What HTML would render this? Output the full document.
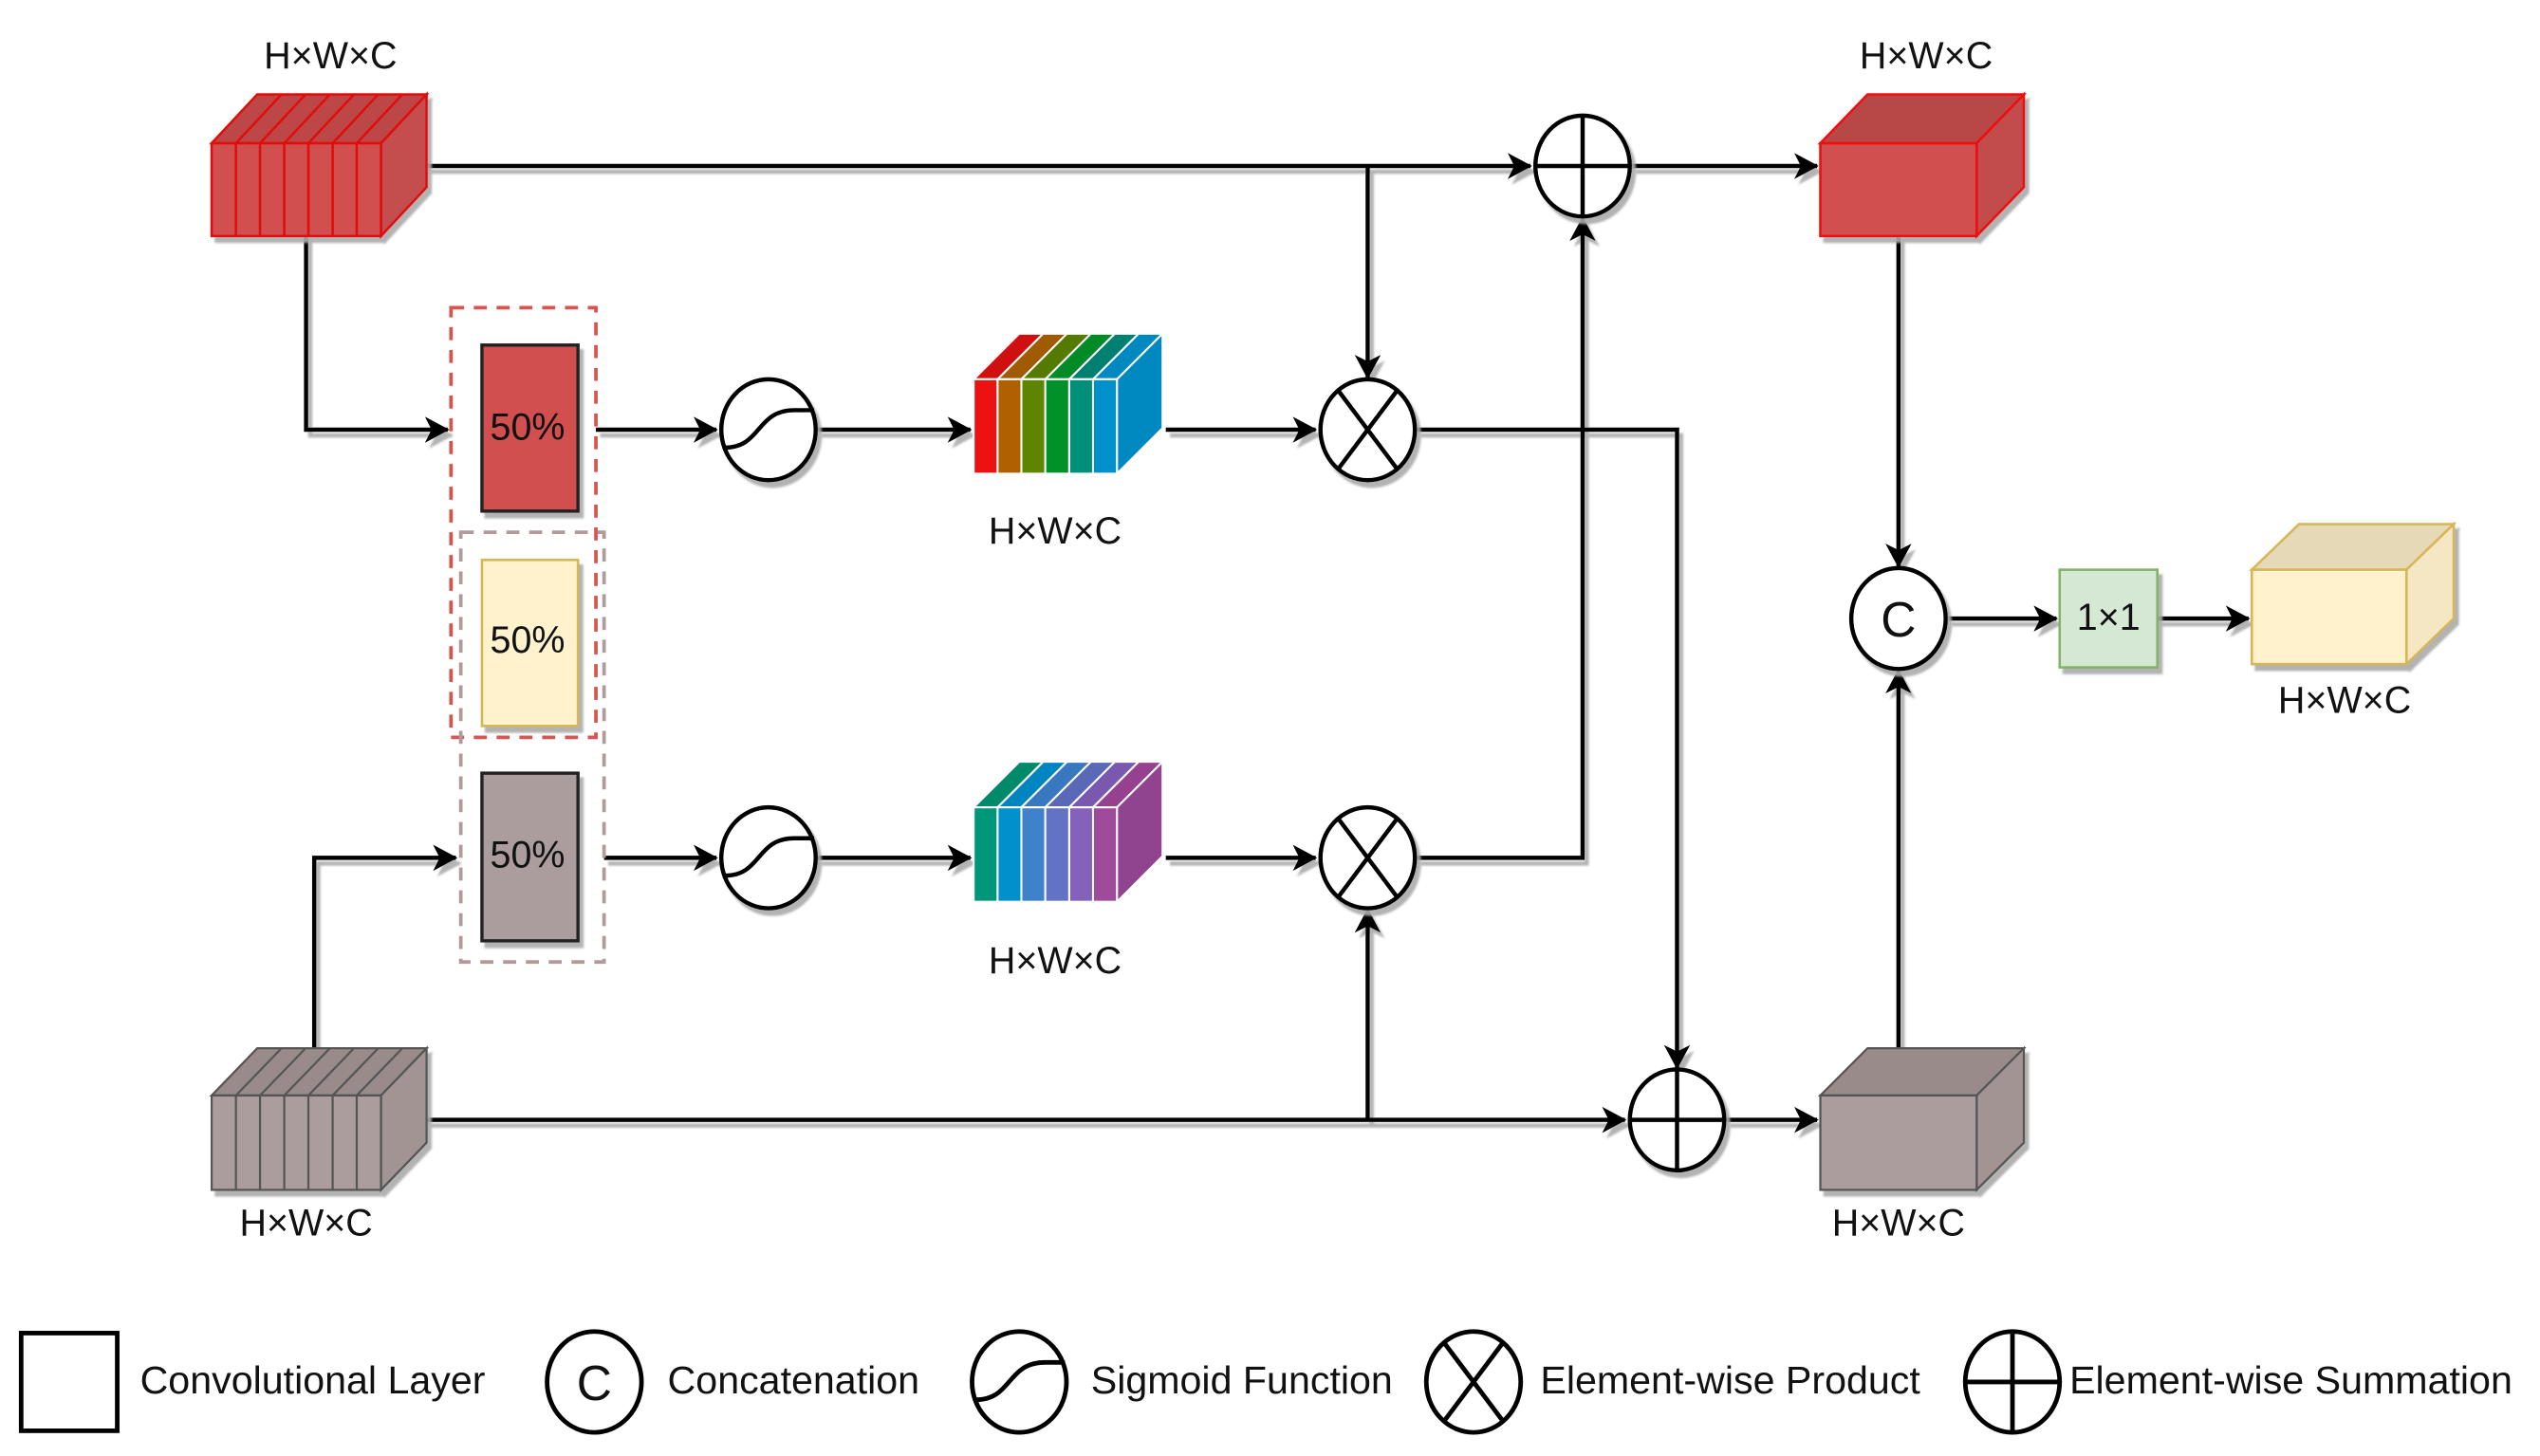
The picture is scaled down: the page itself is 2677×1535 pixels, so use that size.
<!DOCTYPE html>
<html><head><meta charset="utf-8"><style>
html,body{margin:0;padding:0;background:#fff}
svg{display:block}
text{font-family:"Liberation Sans",sans-serif;fill:#111}
</style></head><body>
<svg width="2677" height="1535" viewBox="0 0 1560 894.5" preserveAspectRatio="none" xmlns="http://www.w3.org/2000/svg">
<defs>
<marker id="a" markerUnits="userSpaceOnUse" markerWidth="20" markerHeight="20" refX="14" refY="8" orient="auto">
<path d="M0,0 L15,8 L0,16 L4,8 Z" fill="#000"/>
</marker>
<filter id="sh" x="-10%" y="-10%" width="130%" height="130%">
<feDropShadow dx="2.5" dy="3.5" stdDeviation="0.6" flood-color="#aaa" flood-opacity="0.9"/>
</filter>
</defs>

<g filter="url(#sh)" fill="none" stroke="#000" stroke-width="2.6">
<path d="M262,102 H940" marker-end="url(#a)"/>
<path d="M840,102 V232" marker-end="url(#a)"/>
<path d="M1002,102 H1116" marker-end="url(#a)"/>
<path d="M188,145 V264 H275" marker-end="url(#a)"/>
<path d="M366,264 H440" marker-end="url(#a)"/>
<path d="M502,264 H596" marker-end="url(#a)"/>
<path d="M716,264 H808" marker-end="url(#a)"/>
<path d="M870,264 H1030 V656" marker-end="url(#a)"/>
<path d="M371,527 H440" marker-end="url(#a)"/>
<path d="M502,527 H596" marker-end="url(#a)"/>
<path d="M716,527 H808" marker-end="url(#a)"/>
<path d="M870,527 H972 V134" marker-end="url(#a)"/>
<path d="M193,644 V527 H280" marker-end="url(#a)"/>
<path d="M262,688 H998" marker-end="url(#a)"/>
<path d="M840,688 V559" marker-end="url(#a)"/>
<path d="M1060,688 H1116" marker-end="url(#a)"/>
<path d="M1166,145 V348" marker-end="url(#a)"/>
<path d="M1166,644 V412" marker-end="url(#a)"/>
<path d="M1196,380 H1263" marker-end="url(#a)"/>
<path d="M1325,380 H1381" marker-end="url(#a)"/>
</g>

<!-- dashed boxes -->
<rect x="277" y="189" width="89" height="264" fill="none" stroke="#d9534f" stroke-width="2.2" stroke-dasharray="8,6"/>
<rect x="283" y="327" width="88" height="264" fill="none" stroke="#b09a9a" stroke-width="2.2" stroke-dasharray="8,6"/>

<g filter="url(#sh)">
<!-- 50% rects -->
<rect x="296" y="212" width="59" height="102" fill="#d15050" stroke="#222" stroke-width="2"/>
<rect x="296" y="344" width="59" height="102" fill="#fff2cc" stroke="#d6b656" stroke-width="1.5"/>
<rect x="296" y="475" width="59" height="103" fill="#ab9d9d" stroke="#222" stroke-width="2"/>

<!-- top-left red sliced cube -->
<g stroke="#e01010" stroke-width="1.5">
<polygon points="130,88 158,58 262,58 234,88" fill="#bd4747"/>
<polygon points="234,88 262,58 262,115 234,145" fill="#c44d4d"/>
<rect x="130" y="88" width="104" height="57" fill="#d15050"/>
<path d="M144.9,88V145M159.7,88V145M174.6,88V145M189.4,88V145M204.3,88V145M219.1,88V145M144.9,88L172.9,58M159.7,88L187.7,58M174.6,88L202.6,58M189.4,88L217.4,58M204.3,88L232.3,58M219.1,88L247.1,58" fill="none"/>
</g>

<!-- bottom-left gray sliced cube -->
<g stroke="#555" stroke-width="1.3">
<polygon points="130,673 158,644 262,644 234,673" fill="#9a8b8b"/>
<polygon points="234,673 262,644 262,702 234,731" fill="#a39494"/>
<rect x="130" y="673" width="104" height="58" fill="#ab9d9d"/>
<path d="M144.9,673V731M159.7,673V731M174.6,673V731M189.4,673V731M204.3,673V731M219.1,673V731M144.9,673L172.9,644M159.7,673L187.7,644M174.6,673L202.6,644M189.4,673L217.4,644M204.3,673L232.3,644M219.1,673L247.1,644" fill="none"/>
</g>

<!-- right red cube -->
<g stroke="#f01010" stroke-width="1.5">
<polygon points="1118,88 1147,58 1243,58 1214,88" fill="#b84646"/>
<polygon points="1214,88 1243,58 1243,115 1214,145" fill="#c24b4b"/>
<rect x="1118" y="88" width="96" height="57" fill="#d15050"/>
</g>
<!-- right gray cube -->
<g stroke="#555" stroke-width="1.3">
<polygon points="1118,673 1147,644 1243,644 1214,673" fill="#9a8b8b"/>
<polygon points="1214,673 1243,644 1243,702 1214,731" fill="#a39494"/>
<rect x="1118" y="673" width="96" height="58" fill="#ab9d9d"/>
</g>
<!-- yellow cube -->
<g stroke="#d6b656" stroke-width="1.5">
<polygon points="1383,350 1412,322 1507,322 1478,350" fill="#e6d9b8"/>
<polygon points="1478,350 1507,322 1507,380 1478,408" fill="#f5e7c4"/>
<rect x="1383" y="350" width="95" height="58" fill="#fff2cc"/>
</g>
<!-- 1x1 -->
<rect x="1265" y="350" width="60" height="60" fill="#d5e8d4" stroke="#82b366" stroke-width="1.5"/>
</g>

<!-- rainbow cube 1 -->
<g stroke="#fff" stroke-width="1.2">
<polygon points="598,233 626,205 640.7,205 612.7,233" fill="#d01010"/>
<polygon points="612.7,233 640.7,205 655.3,205 627.3,233" fill="#a05a00"/>
<polygon points="627.3,233 655.3,205 670,205 642,233" fill="#557a00"/>
<polygon points="642,233 670,205 684.7,205 656.7,233" fill="#008a28"/>
<polygon points="656.7,233 684.7,205 699.3,205 671.3,233" fill="#008070"/>
<polygon points="671.3,233 699.3,205 714,205 686,233" fill="#0088c0"/>
<polygon points="686,233 714,205 714,263 686,291" fill="#0088c0"/>
<rect x="598" y="233" width="14.7" height="58" fill="#ee1111"/>
<rect x="612.7" y="233" width="14.7" height="58" fill="#b06000"/>
<rect x="627.3" y="233" width="14.7" height="58" fill="#5e8500"/>
<rect x="642" y="233" width="14.7" height="58" fill="#009228"/>
<rect x="656.7" y="233" width="14.7" height="58" fill="#008f78"/>
<rect x="671.3" y="233" width="14.7" height="58" fill="#0090cc"/>
</g>
<!-- rainbow cube 2 -->
<g stroke="#fff" stroke-width="1.2">
<polygon points="598,496 626,468 640.7,468 612.7,496" fill="#008a6a"/>
<polygon points="612.7,496 640.7,468 655.3,468 627.3,496" fill="#0085c0"/>
<polygon points="627.3,496 655.3,468 670,468 642,496" fill="#3878c0"/>
<polygon points="642,496 670,468 684.7,468 656.7,496" fill="#5a68b8"/>
<polygon points="656.7,496 684.7,468 699.3,468 671.3,496" fill="#7a58b0"/>
<polygon points="671.3,496 699.3,468 714,468 686,496" fill="#964090"/>
<polygon points="686,496 714,468 714,526 686,554" fill="#904490"/>
<rect x="598" y="496" width="14.7" height="58" fill="#00967a"/>
<rect x="612.7" y="496" width="14.7" height="58" fill="#0090cc"/>
<rect x="627.3" y="496" width="14.7" height="58" fill="#3f82cc"/>
<rect x="642" y="496" width="14.7" height="58" fill="#6272c4"/>
<rect x="656.7" y="496" width="14.7" height="58" fill="#8462bc"/>
<rect x="671.3" y="496" width="14.7" height="58" fill="#a04a9c"/>
</g>

<!-- operators -->
<g filter="url(#sh)" fill="#fff" stroke="#000" stroke-width="2.6">
<ellipse cx="972" cy="102" rx="29" ry="31"/>
<path d="M943,102H1001M972,71V133" fill="none"/>
<ellipse cx="1030" cy="688" rx="29" ry="31"/>
<path d="M1001,688H1059M1030,657V719" fill="none"/>
<ellipse cx="840" cy="264" rx="29" ry="31"/>
<path d="M822,240L858,288M858,240L822,288" fill="none"/>
<ellipse cx="840" cy="527" rx="29" ry="31"/>
<path d="M822,503L858,551M858,503L822,551" fill="none"/>
<ellipse cx="472" cy="264" rx="29" ry="31"/>
<path d="M445,275 C468,275 464,252 488,252 L500,252" fill="none"/>
<ellipse cx="472" cy="527" rx="29" ry="31"/>
<path d="M445,538 C468,538 464,515 488,515 L500,515" fill="none"/>
<ellipse cx="1166" cy="380" rx="29" ry="31"/>
</g>

<g font-size="23">
<text x="324" y="270" text-anchor="middle">50%</text>
<text x="324" y="401" text-anchor="middle">50%</text>
<text x="324" y="533" text-anchor="middle">50%</text>
<text x="1295" y="387" text-anchor="middle">1×1</text>
<text x="1166" y="391" text-anchor="middle" font-size="30">C</text>
<text x="203" y="42" text-anchor="middle">H×W×C</text>
<text x="1183" y="42" text-anchor="middle">H×W×C</text>
<text x="648" y="334" text-anchor="middle">H×W×C</text>
<text x="648" y="598" text-anchor="middle">H×W×C</text>
<text x="188" y="759" text-anchor="middle">H×W×C</text>
<text x="1166" y="759" text-anchor="middle">H×W×C</text>
<text x="1440" y="438" text-anchor="middle">H×W×C</text>
</g>

<!-- legend -->
<g fill="#fff" stroke="#000" stroke-width="2.8">
<rect x="13" y="819" width="59" height="60" fill="none"/>
<ellipse cx="365" cy="849" rx="29" ry="31"/>
<ellipse cx="626" cy="849" rx="29" ry="31"/>
<path d="M599,860 C622,860 618,837 642,837 L654,837" fill="none"/>
<ellipse cx="905" cy="849" rx="29" ry="31"/>
<path d="M887,825L923,873M923,825L887,873" fill="none"/>
<ellipse cx="1236" cy="849" rx="29" ry="31"/>
<path d="M1207,849H1265M1236,818V880" fill="none"/>
</g>
<g font-size="24">
<text x="365" y="860" text-anchor="middle" font-size="30">C</text>
<text x="86" y="856">Convolutional Layer</text>
<text x="410" y="856">Concatenation</text>
<text x="670" y="856">Sigmoid Function</text>
<text x="946" y="856">Element-wise Product</text>
<text x="1271" y="856">Element-wise Summation</text>
</g>
</svg>
</body></html>
